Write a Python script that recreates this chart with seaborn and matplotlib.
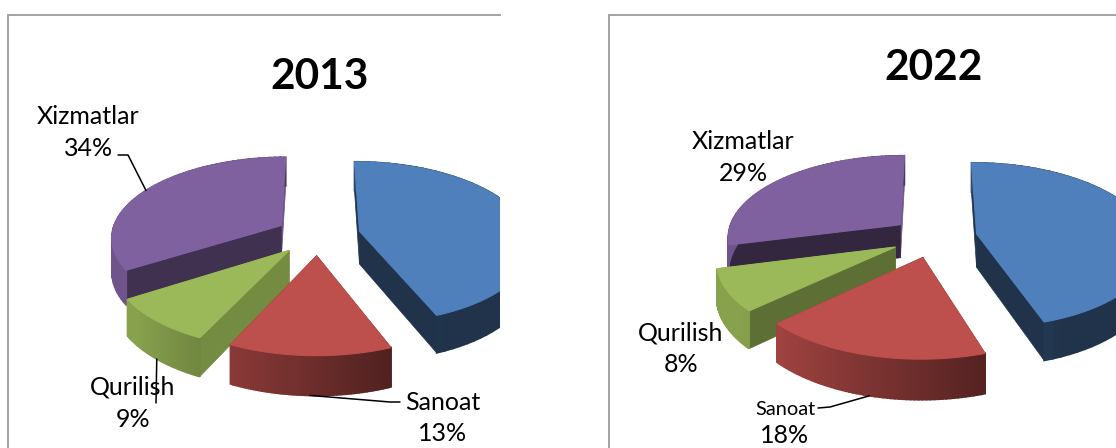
import numpy as np
import matplotlib.pyplot as plt
import seaborn as sns

# share of each sector, percent. first one has its label cut off in the source
sectors = ['', 'Sanoat', 'Qurilish', 'Xizmatlar']
values_2013 = [44, 13, 9, 34]
values_2022 = [45, 18, 8, 29]
colors = ['#4F80BC', '#BD4F4C', '#9BB958', '#8061A0']

# darkness of the flat cut faces, per slice
cut_2013 = [0.40, 0.40, 0.75, 0.50]
cut_2022 = [0.40, 0.40, 0.60, 0.40]
cut_end = [0.40, 0.40, 0.75, 0.85]

EXPLODE = 0.25
RX = 170
RY = 80
DEPTH = 33
PERSP = 0.137

sns.set_theme(style='white')
plt.rcParams['font.family'] = ['Lato', 'DejaVu Sans']


def project(u, v, pie, drop=0.0):
    cx, cy, k = pie
    s = k / (1 + PERSP * v)
    return cx + RX * u * s, cy - RY * v * s + drop * DEPTH * s


def slice_geometry(start, end):
    mid = np.radians((start + end) / 2)
    ex, ey = EXPLODE * np.sin(mid), EXPLODE * np.cos(mid)
    th = np.radians(np.linspace(start, end, 60))
    return ex, ey, th


def arc_point(values, i, frac, pie, drop=0.0):
    edges = np.cumsum([0] + list(values)) * 3.6
    ex, ey, _ = slice_geometry(edges[i], edges[i + 1])
    t = np.radians(edges[i] + frac * (edges[i + 1] - edges[i]))
    return project(ex + np.sin(t), ey + np.cos(t), pie, drop)


def draw_pie(ax, values, cut, pie):
    edges = np.cumsum([0] + list(values)) * 3.6
    for i in [3, 0, 2, 1]:
        base = np.array(sns.color_palette([colors[i]])[0])
        ex, ey, th = slice_geometry(edges[i], edges[i + 1])
        u = ex + np.sin(th)
        v = ey + np.cos(th)
        # straight cut faces first, the far one before the near one
        for t, m in [(th[-1], cut_end[i]), (th[0], cut[i])]:
            uu = np.array([ex, ex + np.sin(t)])
            vv = np.array([ey, ey + np.cos(t)])
            x0, y0 = project(uu, vv, pie)
            x1, y1 = project(uu, vv, pie, 1.0)
            ax.fill(np.r_[x0, x1[::-1]], np.r_[y0, y1[::-1]], color=base * m, lw=0.5)
        # rounded wall, darker to the right
        for j in range(len(th) - 1):
            uu, vv = u[j:j + 2], v[j:j + 2]
            x0, y0 = project(uu, vv, pie)
            x1, y1 = project(uu, vv, pie, 1.0)
            m = np.clip(0.565 - 0.39 * np.sin(th[j]), 0.40, 0.87)
            ax.fill(np.r_[x0, x1[::-1]], np.r_[y0, y1[::-1]], color=base * m, lw=1.2)
        # top
        xt, yt = project(np.r_[ex, u], np.r_[ey, v], pie)
        ax.fill(xt, yt, color=base, lw=0.8)


def leader(ax, start, *rest):
    pts = [start] + list(rest)
    ax.plot([p[0] for p in pts], [p[1] for p in pts], color='black', lw=1.1, zorder=5)


fig = plt.figure(figsize=(11.16, 4.48), dpi=100)
W, H = 1116, 448
ax1 = fig.add_axes([8 / W, 0, 492 / W, 433 / H])
ax2 = fig.add_axes([609 / W, 0, 507 / W, 433 / H])
ax1.set_xlim(8, 500)
ax2.set_xlim(609, 1116)

for ax in [ax1, ax2]:
    ax.set_ylim(448, 15)
    ax.set_xticks([])
    ax.set_yticks([])
    sns.despine(ax=ax, right=True, bottom=True, top=False, left=False)
    for side in ['left', 'top']:
        ax.spines[side].set_color('#A3A3A3')
        ax.spines[side].set_linewidth(1.4)

pie_2013 = (318, 235, 1.0)
pie_2022 = (934, 237, 1.02)
draw_pie(ax1, values_2013, cut_2013, pie_2013)
draw_pie(ax2, values_2022, cut_2022, pie_2022)

ax1.text(320, 77, '2013', fontsize=30.5, fontweight='bold', ha='center', va='center', color='black')
ax2.text(934, 68, '2022', fontsize=30.5, fontweight='bold', ha='center', va='center', color='black')


def label(ax, i, values, x, y, x2, y2, size=18):
    ax.text(x, y, sectors[i], fontsize=size, ha='center', va='center', color='black', zorder=6)
    ax.text(x2, y2, f'{values[i]}%', fontsize=18, ha='center', va='center', color='black', zorder=6)


label(ax1, 3, values_2013, 88, 117, 89, 149)
label(ax1, 2, values_2013, 133, 387, 133, 419)
label(ax1, 1, values_2013, 443, 402, 443, 433)
label(ax2, 3, values_2022, 743, 142, 743, 174)
label(ax2, 2, values_2022, 681, 333, 681, 364)
label(ax2, 1, values_2022, 785, 409, 785, 435, size=14.4)

leader(ax1, arc_point(values_2013, 3, 0.5, pie_2013), (128, 155), (118, 155))
leader(ax1, arc_point(values_2013, 1, 0.5, pie_2013, 1.0), (390, 402), (400, 402))
leader(ax1, arc_point(values_2013, 2, 0.5, pie_2013, 1.0), (156, 403))
leader(ax2, arc_point(values_2022, 1, 0.5, pie_2022, 1.0), (830, 407), (818, 408))

fig.savefig('out.png', dpi=100)
